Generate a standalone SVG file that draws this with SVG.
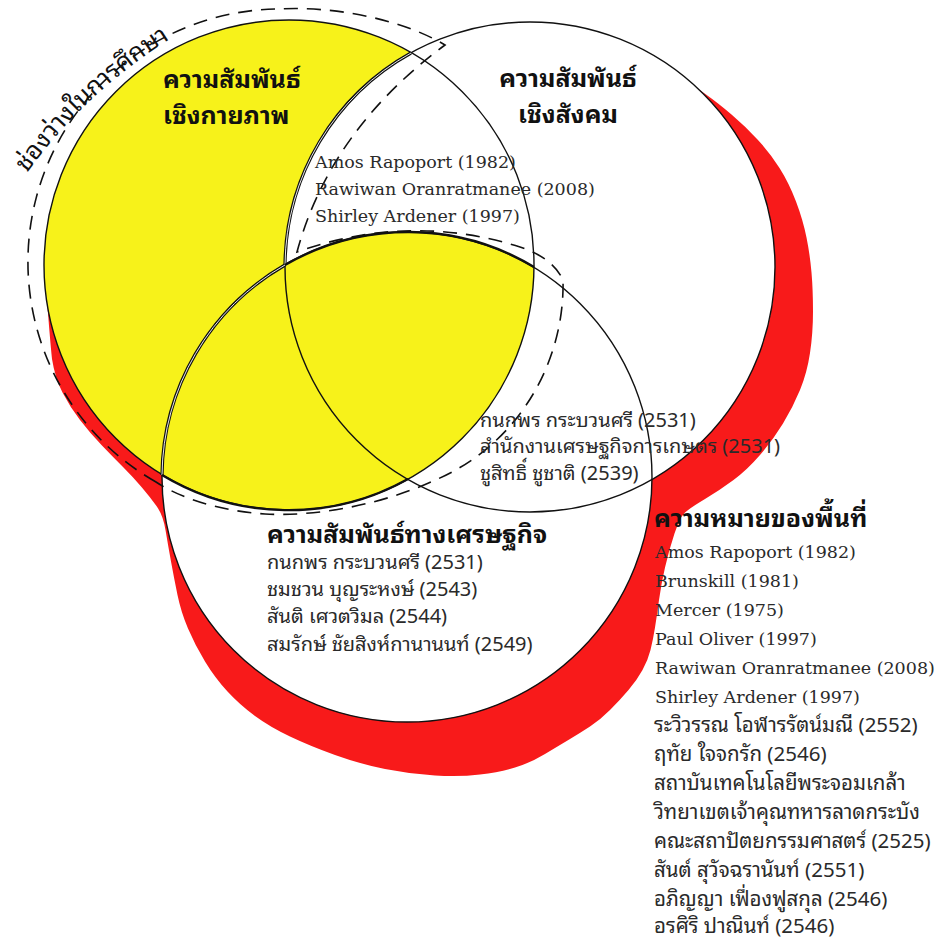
<svg xmlns="http://www.w3.org/2000/svg" width="936" height="939" viewBox="0 0 936 939">
<defs>
<style>
.th{font-family:"Noto Sans Thai Looped","Noto Sans Thai","Loma","Garuda","Tlwg Typo","Noto Sans",sans-serif;font-size:20px;fill:#2a2a2a}
.thr{font-size:20.5px}
.thb{font-family:"Noto Sans Thai Looped","Noto Sans Thai","Loma","Garuda","Tlwg Typo","Noto Sans",sans-serif;font-size:25px;font-weight:bold;fill:#111}
.en{font-family:"DejaVu Serif","Liberation Serif",serif;font-size:17.5px;fill:#2a2a2a}
.ol{fill:none;stroke:#111;stroke-width:1.4}
.dbl{fill:none;stroke:#111;stroke-width:3.2}
.dblw{fill:none;stroke:#fff;stroke-width:0.9}
.dash{fill:none;stroke:#111;stroke-width:1.6;stroke-dasharray:14 9}
</style>
<clipPath id="clipA"><circle cx="289" cy="265" r="245"/></clipPath>
<path id="gapArc" d="M27,173 Q93,80 205,18"/>
</defs>
<rect width="936" height="939" fill="#fff"/>

<g id="red-shadow">
<path fill="#F81A1A" d="M47,300 Q50,340 52,359 Q55,378 62.5,392.5 Q70,407 80,420 Q90,433 101.5,445 Q113,457 123,467 Q133,477 141.5,487 Q150,497 156.5,506 Q163,515 165.5,530 Q168,545 171,561.5 Q174,578 177.5,595 Q181,612 188,628.5 Q195,645 205,661.5 Q215,678 227.5,691.5 Q240,705 255,716 Q270,727 290,736.5 Q310,746 335,755 Q360,764 385,769 Q410,774 435,775.5 Q460,777 480,774.5 Q500,772 515,767.5 Q530,763 545,754 Q560,745 570,739 Q580,733 590,726.5 Q600,720 610,710 Q620,700 628.5,690 Q637,680 642.5,670 Q648,660 650.5,650 Q653,640 655,627.5 Q657,615 659,600 Q661,585 665,567.5 Q669,550 674.5,533.5 Q680,517 685,512.5 Q690,508 705,499 Q720,490 733.5,480 Q747,470 760,455 Q773,440 783,423.5 Q793,407 800,390 Q807,373 810,353 Q813,333 813,311.5 Q813,290 811.5,272.5 Q810,255 806.5,237.5 Q803,220 796,201.5 Q789,183 779.5,168 Q770,153 757.5,139.5 Q745,126 731.5,114.5 Q718,103 706,94.5 L694,86 L530,267 L407,477 L289,300 Z"/>
</g>

<g id="circle-physical">
<circle cx="289" cy="265" r="245" fill="#F7F21A"/>
</g>
<g id="circle-social">
<circle cx="530" cy="267" r="245" fill="#fff"/>
</g>
<g id="circle-economic">
<circle cx="407" cy="477" r="245" fill="#fff"/>
<circle cx="407" cy="477" r="245" fill="#F7F21A" clip-path="url(#clipA)"/>
</g>

<g id="outlines">
<circle class="ol" cx="289" cy="265" r="245"/>
<circle class="ol" cx="530" cy="267" r="245"/>
<circle class="ol" cx="407" cy="477" r="245"/>
<path class="dbl" d="M411,53 A245,245 0 0,0 285,265"/>
<path class="dblw" d="M411,53 A245,245 0 0,0 285,265"/>
<path class="dbl" d="M162,475 A245,245 0 0,1 285,265"/>
<path class="dblw" d="M162,475 A245,245 0 0,1 285,265"/>
<path fill="none" stroke="#111" stroke-width="2.4" d="M162,475 A245,245 0 0,0 408,479"/>
<path fill="none" stroke="#111" stroke-width="2.4" d="M285,265 A245,245 0 0,1 534,267"/>
</g>

<g id="study-gap">
<path class="dash" d="M156,482 A253,253 0 0,1 280,9 C330,6 400,18 445,45 Q330,130 297,252 Q410,212 520,247 Q553,258 563,280 C565,360 520,445 433,481 C385,503 320,517 265,514 C220,511 180,498 156,482 Z"/>
<text class="th" style="font-size:25px;fill:#111"><textPath href="#gapArc">ช่องว่างในการศึกษา</textPath></text>
</g>

<g id="label-physical">
<text class="thb" x="163" y="88">ความสัมพันธ์</text>
<text class="thb" x="163" y="124">เชิงกายภาพ</text>
</g>
<g id="label-social">
<text class="thb" x="568" y="87" text-anchor="middle">ความสัมพันธ์</text>
<text class="thb" x="568" y="123" text-anchor="middle">เชิงสังคม</text>
</g>
<g id="list-physical-social">
<text class="en" x="315" y="168">Amos Rapoport (1982)</text>
<text class="en" x="315" y="195">Rawiwan Oranratmanee (2008)</text>
<text class="en" x="315" y="222">Shirley Ardener (1997)</text>
</g>
<g id="list-social-economic">
<text class="th" x="480" y="427">กนกพร กระบวนศรี (2531)</text>
<text class="th" x="480" y="453">สำนักงานเศรษฐกิจการเกษตร (2531)</text>
<text class="th" x="480" y="480">ชูสิทธิ์ ชูชาติ (2539)</text>
</g>
<g id="label-economic">
<text class="thb" x="267" y="543">ความสัมพันธ์ทางเศรษฐกิจ</text>
<text class="th" x="267" y="569">กนกพร กระบวนศรี (2531)</text>
<text class="th" x="267" y="596">ชมชวน บุญระหงษ์ (2543)</text>
<text class="th" x="267" y="623">สันติ เศวตวิมล (2544)</text>
<text class="th" x="267" y="651">สมรักษ์ ชัยสิงห์กานานนท์ (2549)</text>
</g>
<g id="label-meaning">
<text class="thb" x="654" y="527">ความหมายของพื้นที่</text>
<text class="en" x="655" y="558">Amos Rapoport (1982)</text>
<text class="en" x="655" y="587">Brunskill (1981)</text>
<text class="en" x="655" y="616">Mercer (1975)</text>
<text class="en" x="655" y="645">Paul Oliver (1997)</text>
<text class="en" x="655" y="674">Rawiwan Oranratmanee (2008)</text>
<text class="en" x="655" y="703">Shirley Ardener (1997)</text>
<text class="th thr" x="654" y="732">ระวิวรรณ โอฬารรัตน์มณี (2552)</text>
<text class="th thr" x="654" y="761">ฤทัย ใจจกรัก (2546)</text>
<text class="th thr" x="654" y="790">สถาบันเทคโนโลยีพระจอมเกล้า</text>
<text class="th thr" x="654" y="819">วิทยาเขตเจ้าคุณทหารลาดกระบัง</text>
<text class="th thr" x="654" y="848">คณะสถาปัตยกรรมศาสตร์ (2525)</text>
<text class="th thr" x="654" y="877">สันต์ สุวัจฉรานันท์ (2551)</text>
<text class="th thr" x="654" y="906">อภิญญา เฟื่องฟูสกุล (2546)</text>
<text class="th thr" x="654" y="933">อรศิริ ปาณินท์ (2546)</text>
</g>
</svg>
